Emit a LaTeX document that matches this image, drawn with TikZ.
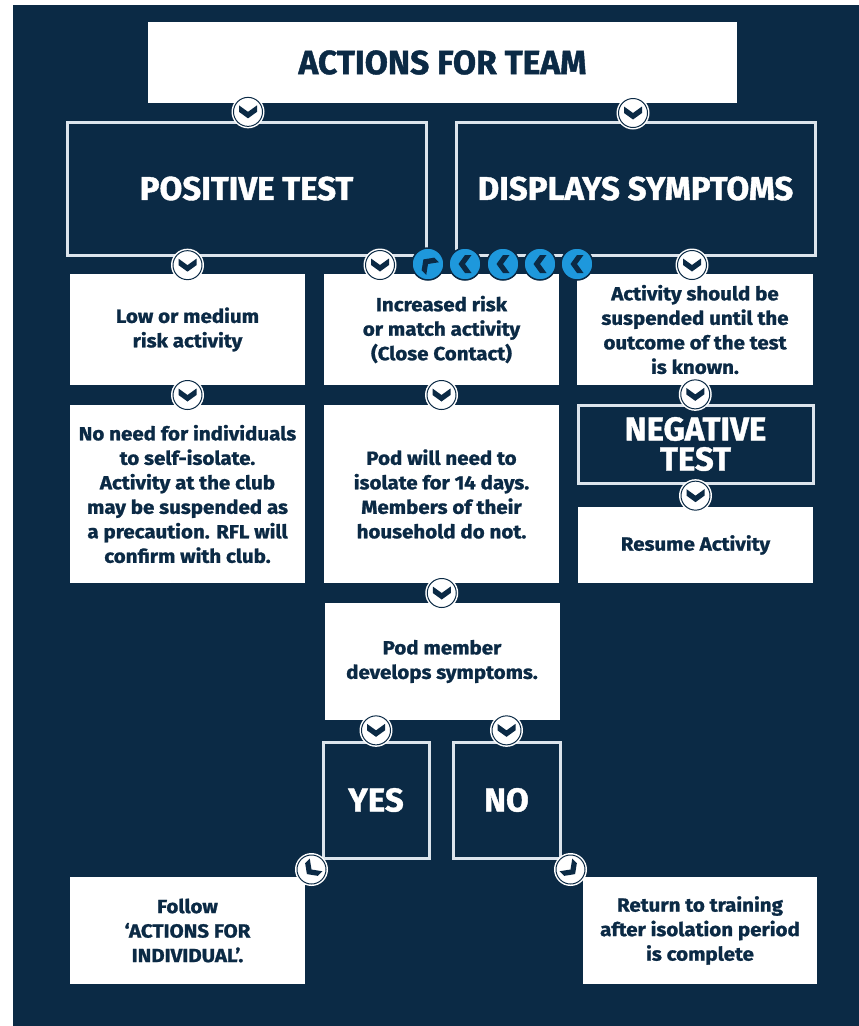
\documentclass[tikz,border=0pt]{standalone}
\usepackage{fontspec}
\setmainfont{Fira Sans}
\newfontfamily\cardfont{Fira Sans}[FakeStretch=1.08, BoldFeatures={FakeBold=1.2}]
\newfontfamily\headfont{Fira Sans}[FakeStretch=1.0, BoldFeatures={FakeBold=1.2}]
\usetikzlibrary{calc}
\definecolor{navy}{HTML}{0B2A45}
\definecolor{skyblue}{HTML}{1E98DC}
\definecolor{rim}{HTML}{DCE4EC}
\tikzset{
  card/.style={fill=white, text=navy, align=center, inner sep=0pt,
    font=\cardfont\bfseries\fontsize{19}{24.5}\selectfont},
  frame/.style={draw=rim, line width=3pt, text=white, align=center, inner sep=0pt,
    font=\headfont\bfseries\fontsize{33}{30}\selectfont},
  chev/.pic={
    \fill [white] (0,0) circle (16.5);
    \draw [navy, line width=1pt] (0,0) circle (14.5);
    \fill [navy] (-9,-6.5) -- (0,0) -- (9,-6.5) -- (9,0) -- (0,6.5) -- (-9,0) -- cycle;
  },
  bluechev/.pic={
    \filldraw [fill=skyblue, draw=navy, line width=1.5pt] (0,0) circle (16);
    \fill [navy] (-9,-6.5) -- (0,0) -- (9,-6.5) -- (9,0) -- (0,6.5) -- (-9,0) -- cycle;
  }
}
\begin{document}
\begin{tikzpicture}[x=1pt, y=-1pt]
  \useasboundingbox (0,0) rectangle (859,1026);
  \fill [white] (0,0) rectangle (859,1026);
  \fill [navy] (13,5) rectangle (859,1026);
  % boxes
  \node (title) [card, minimum width=589, minimum height=81,
    font=\headfont\bfseries\fontsize{33.5}{34}\selectfont] at (442.5,62.5) {ACTIONS FOR TEAM};
  \node (pos) [frame, minimum width=359, minimum height=133] at (246.5,188.5) {POSITIVE TEST};
  \node (disp) [frame, minimum width=359, minimum height=133] at (635.5,188.5) {DISPLAYS SYMPTOMS};
  \node (low) [card, minimum width=235, minimum height=111] at (187.5,329.5) {Low or medium\\risk activity};
  \node (incr) [card, minimum width=235, minimum height=111] at (441.5,329.5) {Increased risk\\or match activity\\(Close Contact)};
  \node (susp) [card, minimum width=236, minimum height=111] at (695,329.5) {Activity should be\\suspended until the\\outcome of the test\\is known.};
  \node (noneed) [card, minimum width=235, minimum height=178] at (187.5,494) {No need for individuals\\to self-isolate.\\Activity at the club\\may be suspended as\\a precaution. RFL will\\confirm with club.};
  \node (podiso) [card, minimum width=235, minimum height=178] at (441.5,494) {Pod will need to\\isolate for 14 days.\\Members of their\\household do not.};
  \node (neg) [frame, minimum width=235, minimum height=78] at (695.5,444) {NEGATIVE\\TEST};
  \node (resume) [card, minimum width=235, minimum height=76] at (695.5,545) {Resume Activity};
  \node (podmem) [card, minimum width=235, minimum height=117] at (442,661.5) {Pod member\\develops symptoms.};
  \node (yes) [frame, minimum width=106, minimum height=116] at (376,800) {YES};
  \node (no) [frame, minimum width=107, minimum height=116] at (506.5,800) {NO};
  \node (follow) [card, minimum width=235, minimum height=107] at (187.5,930.5) {Follow\\‘ACTIONS FOR\\INDIVIDUAL’.};
  \node (ret) [card, minimum width=234, minimum height=107] at (700,930.5) {Return to training\\after isolation period\\is complete};
  % chevron links
  \coordinate (t-pos) at (title.south -| pos.north);
  \coordinate (t-disp) at (633,113);
  \pic at ($(t-pos)!0.5!(pos.north)+(1.5,0)$) {chev};
  \pic at (t-disp) {chev};
  \pic at ($(pos.south -| low.north)!0.5!(low.north)$) {chev};
  \pic at (380,265) {chev};
  \pic at (692,265) {chev};
  \pic at ($(low.south)!0.5!(noneed.north)$) {chev};
  \pic at ($(incr.south)!0.5!(podiso.north)$) {chev};
  \pic at ($(susp.south)!0.5!(neg.north)$) {chev};
  \pic at ($(neg.south)!0.5!(resume.north)$) {chev};
  \pic at ($(podiso.south)!0.5!(podmem.north)$) {chev};
  \pic at ($(podmem.south -| yes.north)!0.5!(yes.north)$) {chev};
  \pic at ($(podmem.south -| no.north)!0.5!(no.north)$) {chev};
  \pic [rotate=-45] at ($(yes.south west)+(-10,10)$) {chev};
  \pic [rotate=45] at ($(no.south east)+(9,10)$) {chev};
  % symptoms route into close contact
  \pic [rotate=-135] at (428,264) {bluechev};
  \foreach \bx in {465,503,540,577}
    \pic [rotate=-90] at (\bx,264) {bluechev};
\end{tikzpicture}
\end{document}
